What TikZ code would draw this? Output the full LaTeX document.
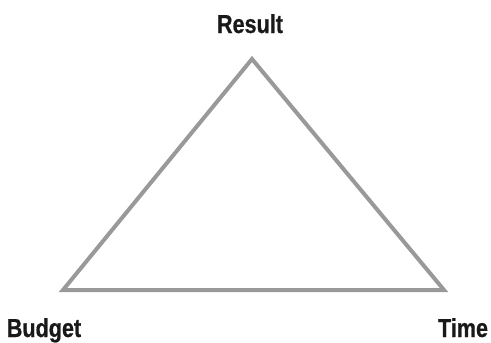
\documentclass[tikz,border=0pt]{standalone}
\usepackage{fontspec}
\setmainfont[FakeStretch=0.83,FakeBold=0.6]{Liberation Sans}
\begin{document}
\begin{tikzpicture}[x=1pt,y=-1pt,
  lbl/.style={font=\bfseries\fontsize{26}{26}\selectfont, anchor=base, inner sep=0pt, text=black!90},
  edge/.style={draw=black!40, line width=4pt, line join=miter}]
\useasboundingbox (0,0) rectangle (491,343);
\coordinate (r) at (252,59);
\coordinate (b) at (63,290);
\coordinate (t) at (444,290);
\draw[edge] (r) -- (b) -- (t) -- cycle;
\node[lbl] (lr) at (250,33) {Result};
\node[lbl] (lb) at (44,337) {Budget};
\node[lbl] (lt) at (463,337) {Time};
\end{tikzpicture}
\end{document}
